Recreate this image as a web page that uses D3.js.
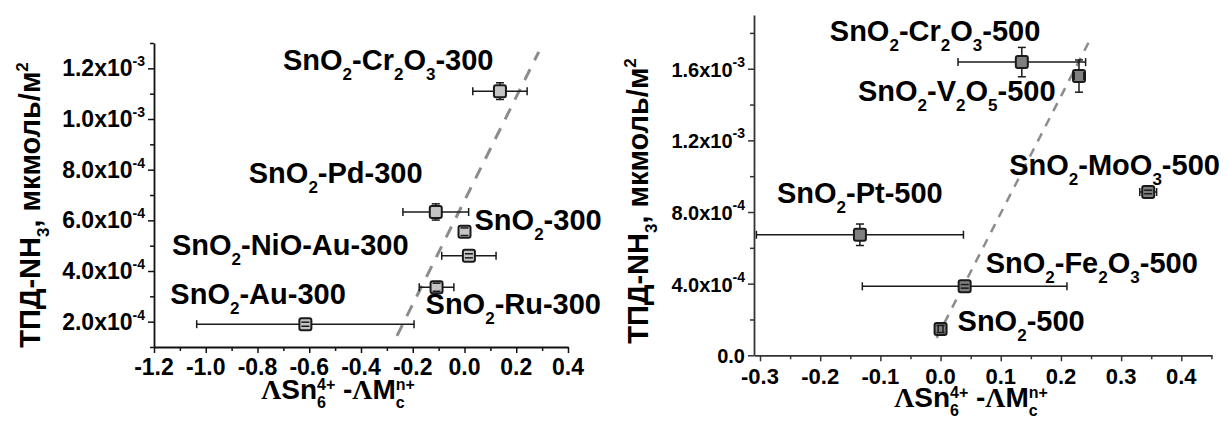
<!DOCTYPE html>
<html>
<head>
<meta charset="utf-8">
<script src="https://cdn.jsdelivr.net/npm/d3@7"></script>
<style>
  body { margin: 0; background: #fff; }
  svg { display: block; }
  svg text { font-family: "Liberation Sans", Arial, sans-serif; font-weight: bold; }
</style>
</head>
<body>
<div id="chart"></div>
<script>
// ---- data (left panel, 300 C) ----
let leftNames = ["SnO_{2}-Cr_{2}O_{3}-300", "SnO_{2}-Pd-300", "SnO_{2}-300", "SnO_{2}-NiO-Au-300", "SnO_{2}-Ru-300", "SnO_{2}-Au-300"];
let leftX    = [0.137, -0.111, 0.0, 0.017, -0.108, -0.615];
let leftXErr = [0.105, 0.127, 0.0, 0.105, 0.067, 0.42];
let leftY    = [1.11e-3, 6.33e-4, 5.55e-4, 4.6e-4, 3.36e-4, 1.9e-4];
let leftYErr = [3.3e-5, 3.2e-5, 1.5e-5, 0.8e-5, 1.6e-5, 0.8e-5];
let leftFitX = [-0.261, 0.287];
let leftFitY = [1.44e-4, 1.265e-3];
let leftXTicks = [-1.2, -1.0, -0.8, -0.6, -0.4, -0.2, 0.0, 0.2, 0.4];
let leftYTicks = [2e-4, 4e-4, 6e-4, 8e-4, 1.0e-3, 1.2e-3];

// ---- data (right panel, 500 C) ----
let rightNames = ["SnO_{2}-Cr_{2}O_{3}-500", "SnO_{2}-V_{2}O_{5}-500", "SnO_{2}-MoO_{3}-500", "SnO_{2}-Pt-500", "SnO_{2}-Fe_{2}O_{3}-500", "SnO_{2}-500"];
let rightX    = [0.135, 0.230, 0.345, -0.134, 0.040, 0.0];
let rightXErr = [0.106, 0.008, 0.014, 0.172, 0.170, 0.004];
let rightY    = [1.637e-3, 1.559e-3, 9.12e-4, 6.73e-4, 3.85e-4, 1.47e-4];
let rightYErr = [8.2e-5, 9.0e-5, 1.0e-5, 6.0e-5, 1.0e-5, 2.0e-5];
let rightFitX = [-0.0066, 0.250];
let rightFitY = [0.97e-4, 1.773e-3];
let rightXTicks = [-0.3, -0.2, -0.1, 0.0, 0.1, 0.2, 0.3, 0.4];
let rightYTicks = [0, 4e-4, 8e-4, 1.2e-3, 1.6e-3];

let yTitle = "ТПД-NH_{3}, мкмоль/м^{2}";
let xTitle = "ΛSn_{6}^{4+} -ΛM_{c}^{n+}";

let w = 1228;
let h = 421;

let viz = d3.select("#chart")
  .append("svg")
    .attr("width", w)
    .attr("height", h)
;

// writes "a_{b}c^{d}" as tspans; a sup right after a sub is stacked over it
function rich(sel, str, size, small, subDy, supDy) {
  sel.style("font-size", size + "px").style("font-weight", "700");
  let parts = str.split(/(_\{[^}]*\}|\^\{[^}]*\})/).filter(function(s) { return s !== ""; });
  let shift = 0;
  let subLen = null;
  parts.forEach(function(p) {
    if (p.startsWith("_{")) {
      let t = sel.append("tspan").style("font-size", small + "px").attr("dy", subDy - shift).text(p.slice(2, -1));
      shift = subDy;
      subLen = t.node().getComputedTextLength();
    } else if (p.startsWith("^{")) {
      let t = sel.append("tspan").style("font-size", small + "px").attr("dy", -supDy - shift).text(p.slice(2, -1));
      if (subLen !== null) t.attr("dx", -subLen);
      shift = -supDy;
      subLen = null;
    } else {
      p.split(/(Λ)/).filter(function(s) { return s !== ""; }).forEach(function(q) {
        let t = sel.append("tspan").attr("dy", -shift).text(q);
        if (q === "Λ") t.style("font-family", "'Liberation Serif', 'Times New Roman', serif");
        shift = 0;
      });
      subLen = null;
    }
  });
}

function sciLabel(d) {
  if (d === 0) return "0.0";
  let e = Math.floor(Math.log10(d) + 1e-9);
  let m = d / Math.pow(10, e);
  return m.toFixed(1) + "x10^{" + e + "}";
}

function minorTicks(major, domain) {
  let step = major[1] - major[0];
  let out = [];
  major.forEach(function(v) { out.push(v - step / 2); });
  out.push(major[major.length - 1] + step / 2);
  return out.filter(function(v) { return v >= Math.min(domain[0], domain[1]) - 1e-12 && v <= Math.max(domain[0], domain[1]) + 1e-12; });
}

function panel(opt) {
  let g = viz.append("g");
  let x = opt.x, y = opt.y;
  let x0 = x.range()[0], y0 = y.range()[0];

  // minor ticks
  g.append("g")
    .attr("transform", "translate(0," + y0 + ")")
    .call(d3.axisBottom(x).tickValues(minorTicks(opt.xTicks, x.domain())).tickSize(4).tickSizeOuter(0).tickFormat(""))
    .call(function(a) { a.select(".domain").remove(); a.selectAll("text").remove(); a.selectAll("line").attr("stroke", opt.axisColor).attr("stroke-width", 1.5); });
  g.append("g")
    .attr("transform", "translate(" + x0 + ",0)")
    .call(d3.axisLeft(y).tickValues(minorTicks(opt.yTicks, y.domain())).tickSize(4).tickSizeOuter(0).tickFormat(""))
    .call(function(a) { a.select(".domain").remove(); a.selectAll("text").remove(); a.selectAll("line").attr("stroke", opt.axisColor).attr("stroke-width", 1.5); });

  // major axes (lines only, labels drawn below)
  let xa = g.append("g")
    .attr("transform", "translate(0," + y0 + ")")
    .call(d3.axisBottom(x).tickValues(opt.xTicks).tickSize(6).tickSizeOuter(0).tickFormat(""));
  let ya = g.append("g")
    .attr("transform", "translate(" + x0 + ",0)")
    .call(d3.axisLeft(y).tickValues(opt.yTicks).tickSize(6).tickSizeOuter(0).tickFormat(""));
  [xa, ya].forEach(function(a) {
    a.selectAll("text").remove();
    a.select(".domain").attr("stroke", opt.axisColor).attr("stroke-width", 1.8);
    a.selectAll("line").attr("stroke", opt.axisColor).attr("stroke-width", 1.5);
  });

  // tick labels
  g.append("g").selectAll("text")
    .data(opt.xTicks)
    .join("text")
      .attr("x", function(d) { return x(d); })
      .attr("y", y0 + opt.xTickGap)
      .attr("text-anchor", "middle")
      .attr("fill", "#000")
      .style("font-size", opt.xTickSize + "px")
      .style("font-weight", "700")
      .text(function(d) { return d.toFixed(1); });
  g.append("g").selectAll("text")
    .data(opt.yTicks)
    .join("text")
      .attr("x", x0 - 9)
      .attr("y", function(d) { return y(d) + 8; })
      .attr("text-anchor", "end")
      .attr("fill", "#000")
      .each(function(d) { rich(d3.select(this), sciLabel(d), opt.yTickSize, 14, 0, 10); });

  // fit line
  let fit = opt.fitX.map(function(v, i) { return { x: v, y: opt.fitY[i] }; });
  g.append("path")
    .attr("d", d3.line().x(function(d) { return x(d.x); }).y(function(d) { return y(d.y); })(fit))
    .attr("stroke", "#8c8c8c")
    .attr("stroke-width", opt.fitWidth)
    .attr("stroke-dasharray", opt.fitDash)
    .attr("fill", "none");

  let pts = opt.names.map(function(n, i) {
    return { name: n, x: opt.xs[i], y: opt.ys[i], xe: opt.xerr[i], ye: opt.yerr[i], off: opt.offsets[i] };
  });

  // error bars
  let eb = g.append("g").attr("stroke", "#1a1a1a").attr("stroke-width", 1.5);
  pts.forEach(function(d) {
    let cx = x(d.x), cy = y(d.y);
    if (d.xe > 0) {
      eb.append("line").attr("x1", x(d.x - d.xe)).attr("x2", x(d.x + d.xe)).attr("y1", cy).attr("y2", cy);
    }
    eb.append("line").attr("x1", cx).attr("x2", cx).attr("y1", y(d.y - d.ye)).attr("y2", y(d.y + d.ye));
  });

  // markers
  g.append("g").selectAll("rect")
    .data(pts)
    .join("rect")
      .attr("x", function(d) { return x(d.x) - 6; })
      .attr("y", function(d) { return y(d.y) - 6; })
      .attr("width", 12)
      .attr("height", 12)
      .attr("rx", 2)
      .attr("fill", opt.fill)
      .attr("stroke", "#1a1a1a")
      .attr("stroke-width", 2);

  // caps on top
  let caps = g.append("g").attr("stroke", "#1a1a1a").attr("stroke-width", 1.5);
  pts.forEach(function(d) {
    let cx = x(d.x), cy = y(d.y);
    if (d.xe > 0) {
      [x(d.x - d.xe), x(d.x + d.xe)].forEach(function(v) {
        caps.append("line").attr("x1", v).attr("x2", v).attr("y1", cy - 4).attr("y2", cy + 4);
      });
    }
    [y(d.y - d.ye), y(d.y + d.ye)].forEach(function(v) {
      caps.append("line").attr("x1", cx - 4).attr("x2", cx + 4).attr("y1", v).attr("y2", v);
    });
  });

  // point labels
  pts.forEach(function(d) {
    let t = g.append("text")
      .attr("x", x(d.x) + d.off[0])
      .attr("y", y(d.y) + d.off[1])
      .attr("fill", "#000");
    rich(t, d.name, 29, 17, 10, 10);
  });

  // axis titles
  let yt = g.append("text")
    .attr("transform", "translate(" + opt.yTitlePos[0] + "," + opt.yTitlePos[1] + ") rotate(-90)")
    .attr("text-anchor", "middle")
    .attr("fill", "#000");
  rich(yt, yTitle, 29, 17, 9, 12);

  let xt = g.append("text")
    .attr("x", opt.xTitlePos[0])
    .attr("y", opt.xTitlePos[1])
    .attr("text-anchor", "middle")
    .attr("fill", "#000");
  rich(xt, xTitle, 28, 16, 9, 9);
}

panel({
  x: d3.scaleLinear().domain([-1.2, 0.4]).range([154, 568]),
  y: d3.scaleLinear().domain([1e-4, 1.3e-3]).range([347, 43]),
  xTicks: leftXTicks, yTicks: leftYTicks,
  names: leftNames, xs: leftX, ys: leftY, xerr: leftXErr, yerr: leftYErr,
  fitX: leftFitX, fitY: leftFitY,
  offsets: [[-217, -21], [-187, -29], [10, -2], [-297, -1], [-11, 27], [-135, -20]],
  fill: "#c4c4c4", axisColor: "#111",
  fitWidth: 3, fitDash: "12,10",
  xTickSize: 23, yTickSize: 23, xTickGap: 28,
  yTitlePos: [40, 205], xTitlePos: [338, 399]
});

panel({
  x: d3.scaleLinear().domain([-0.31, 0.451]).range([754, 1212]),
  y: d3.scaleLinear().domain([0, 1.9e-3]).range([355.3, 15]),
  xTicks: rightXTicks, yTicks: rightYTicks,
  names: rightNames, xs: rightX, ys: rightY, xerr: rightXErr, yerr: rightYErr,
  fitX: rightFitX, fitY: rightFitY,
  offsets: [[-192, -21], [-221, 25], [-139, -17], [-83, -32], [21, -13], [17, 2]],
  fill: "#7f7f7f", axisColor: "#333",
  fitWidth: 2.5, fitDash: "9,8",
  xTickSize: 22, yTickSize: 20, xTickGap: 29,
  yTitlePos: [648, 201], xTitlePos: [971, 407]
});
</script>
</body>
</html>
